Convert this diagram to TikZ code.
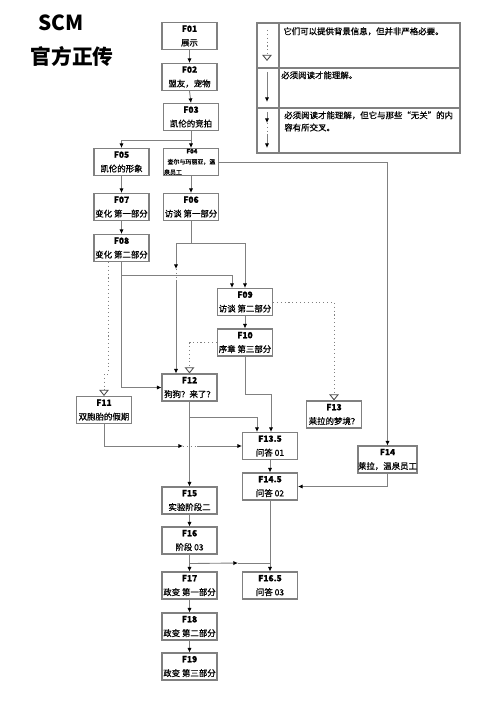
\documentclass[tikz,border=0pt]{standalone}
\usepackage{fontspec}
\setmainfont{Noto Sans CJK SC}
\newfontfamily\boxfont{Noto Sans CJK SC}[FakeBold=0.7]
\usetikzlibrary{arrows.meta,calc}
\definecolor{linegray}{RGB}{128,128,128}

\begin{document}
\begin{tikzpicture}[x=0.02cm,y=-0.02cm,
    scmbox/.style={draw=linegray,line width=0.6pt,fill=white,minimum width=1.1cm,minimum height=0.54cm,inner sep=0pt,align=center,font=\fontsize{4.8}{8}\selectfont\boxfont},
    legtext/.style={anchor=north west,inner sep=0pt,align=left,font=\fontsize{4.8}{7}\selectfont\boxfont},
    link/.style={draw=linegray,line width=0.5pt,-{Latex[length=2.6pt,width=2.4pt,color=black]}},
    plain/.style={draw=linegray,line width=0.5pt},
    dots/.style={draw=linegray,line width=0.5pt,dash pattern=on 0.6pt off 1.6pt},
    bglink/.style={dots,-{Triangle[open,length=3.5pt,width=5.5pt,color=black!70]}}]
    \useasboundingbox (0,0) rectangle (500,712);

    % Marking title
    \node [font=\fontsize{11.8}{14}\selectfont\bfseries] (title1) at (61,23) {SCM};%
    \node [font=\fontsize{11.8}{14}\selectfont\bfseries] (title2) at (72,57) {官方正传};%

    % Drawing legend frame
    \draw [line width=0.6pt,linegray] (257,23) rectangle (460,153);%
    \draw [line width=0.6pt,linegray] (279,23) -- (279,153);%
    \draw [line width=0.6pt,linegray] (257,68) -- (460,68);%
    \draw [line width=0.6pt,linegray] (257,108) -- (460,108);%

    % Marking legend texts
    \node [legtext] (leg1) at (283,27) {它们可以提供背景信息，但并非严格必要。};%
    \node [legtext] (leg2) at (281,71) {必须阅读才能理解。};%
    \node [legtext] (leg3) at (284,111) {必须阅读才能理解，但它与那些“无关”的内\\容有所交叉。};%

    % Drawing legend arrows
    \coordinate (l1a) at (267,30); \coordinate (l1b) at (267,61);
    \coordinate (l2a) at (267,72); \coordinate (l2b) at (267,102);
    \coordinate (l3a) at (267,112); \coordinate (l3b) at (267,123);
    \coordinate (l3c) at (267,134); \coordinate (l3d) at (267,148);
    \draw [bglink] (l1a) -- (l1b);%
    \draw [link] (l2a) -- (l2b);%
    \draw [link] (l3a) -- (l3b);%
    \draw [dots] (l3b) -- (l3c);%
    \draw [link] (l3c) -- (l3d);%

    % Marking boxes F01 .. F19
    \node [scmbox] (f01) at (189.5,36) {\textbf{F01}\\展示};%
    \node [scmbox] (f02) at (189.5,77) {\textbf{F02}\\盟友，宠物};%
    \node [scmbox] (f03) at (191,117) {\textbf{F03}\\凯伦的竞拍};%
    \node [scmbox] (f05) at (121.5,162) {\textbf{F05}\\凯伦的形象};%
    \node [scmbox,font=\fontsize{3.4}{6}\selectfont\boxfont,align=left,text width=1.08cm] (f04) at (191,162)
        {\hspace*{0.45cm}\textbf{F04}\\\hspace*{0.07cm}查尔与玛丽亚，温\\泉员工};%
    \node [scmbox] (f07) at (121.5,207) {\textbf{F07}\\变化 第一部分};%
    \node [scmbox] (f06) at (191,207) {\textbf{F06}\\访谈 第一部分};%
    \node [scmbox] (f08) at (121.5,248) {\textbf{F08}\\变化 第二部分};%
    \node [scmbox] (f09) at (245,302) {\textbf{F09}\\访谈 第二部分};%
    \node [scmbox] (f10) at (245,342.5) {\textbf{F10}\\序章 第三部分};%
    \node [scmbox] (f12) at (189.5,387.5) {\textbf{F12}\\狗狗？来了？};%
    \node [scmbox] (f11) at (104,410) {\textbf{F11}\\双胞胎的假期};%
    \node [scmbox] (f13) at (334,414.5) {\textbf{F13}\\莱拉的梦境？};%
    \node [scmbox] (f135) at (270,446) {\textbf{F13.5}\\问答 01};%
    \node [scmbox] (f14) at (387.5,459.5) {\textbf{F14}\\莱拉，温泉员工};%
    \node [scmbox] (f145) at (270,486.5) {\textbf{F14.5}\\问答 02};%
    \node [scmbox] (f15) at (189.5,500.5) {\textbf{F15}\\实验阶段二};%
    \node [scmbox] (f16) at (189.5,540.5) {\textbf{F16}\\阶段 03};%
    \node [scmbox] (f17) at (189.5,585.5) {\textbf{F17}\\政变 第一部分};%
    \node [scmbox] (f165) at (270,585.5) {\textbf{F16.5}\\问答 03};%
    \node [scmbox] (f18) at (189.5,626.5) {\textbf{F18}\\政变 第二部分};%
    \node [scmbox] (f19) at (189.5,666.5) {\textbf{F19}\\政变 第三部分};%

    % Drawing line F01 F02 F03
    \draw [link] (f01.south) -- (f02.north);%
    \draw [link] (f02.south) -- (f03.north);%

    % Drawing line F03 F05, F03 F04
    \coordinate (j03) at ($(f03.south)+(0,9)$);
    \draw [plain] (f03.south) -- (j03);%
    \draw [link] (j03) -| (f05.north);%
    \draw [link] (j03) -- (f04.north);%

    % Drawing line F05 F07 F08, F04 F06
    \draw [link] (f05.south) -- (f07.north);%
    \draw [link] (f07.south) -- (f08.north);%
    \draw [link] (f04.south) -- (f06.north);%

    % Drawing line F04 F14
    \draw [link] (f04.east) -| (f14.north);%

    % Drawing line F06 F09, F06 F12
    \coordinate (j06) at ($(f06.south)+(0,22.5)$);
    \coordinate (m06) at (176,269);
    \coordinate (n06) at (176,280);
    \draw [plain] (f06.south) -- (j06);%
    \draw [link] (j06) -| (f09.north);%
    \draw [link] (j06) -| (m06);%
    \draw [dots] (m06) -- (n06);%
    \draw [link] (n06) -- (f12.north -| n06);%

    % Drawing line F08 F09, F08 F12, F08 F11
    \coordinate (j08) at ($(f08.south)+(0,13)$);
    \draw [link] (f08.south) |- (f12.west);%
    \draw [link] (j08) -| ($(f09.north)+(-13,0)$);%
    \draw [bglink] ($(f08.south)+(-13.5,0)$) -- ++(0,112) -| (f11.north);%

    % Drawing line F09 F10, F09 F13
    \draw [link] (f09.south) -- (f10.north);%
    \draw [bglink] (f09.east) -| (f13.north);%

    % Drawing line F10 F12, F10 F13.5
    \draw [bglink] (f10.west) -| (f12.north);%
    \draw [link] (f10.south) -- ++(0,38) -| ($(f135.north)+(1,0)$);%

    % Drawing line F12 F15, F12 F13.5
    \coordinate (j12) at ($(f12.south)+(0,16)$);
    \draw [link] (f12.south) -- (f15.north);%
    \draw [link] (j12) -| ($(f135.north)+(-13,0)$);%

    % Drawing line F11 F13.5
    \coordinate (m11) at (183,446);
    \coordinate (n11) at (197,446);
    \draw [link] (f11.south) |- (m11);%
    \draw [dots] (m11) -- (n11);%
    \draw [link] (n11) -- (f135.west);%

    % Drawing line F13.5 F14.5 F16.5, F14 F14.5
    \draw [link] (f135.south) -- (f145.north);%
    \draw [link] (f14.south) |- (f145.east);%
    \draw [link] (f145.south) -- (f165.north);%

    % Drawing line F15 F16 F17 F18 F19, F16 F16.5
    \coordinate (j16) at ($(f16.south)+(0,9)$);
    \coordinate (m16) at (238,563);
    \draw [link] (f15.south) -- (f16.north);%
    \draw [link] (f16.south) -- (f17.north);%
    \draw [link] (j16) -- (m16);%
    \draw [plain] (m16) -- (m16 -| f165.north);%
    \draw [link] (f17.south) -- (f18.north);%
    \draw [link] (f18.south) -- (f19.north);%
\end{tikzpicture}
\end{document}
